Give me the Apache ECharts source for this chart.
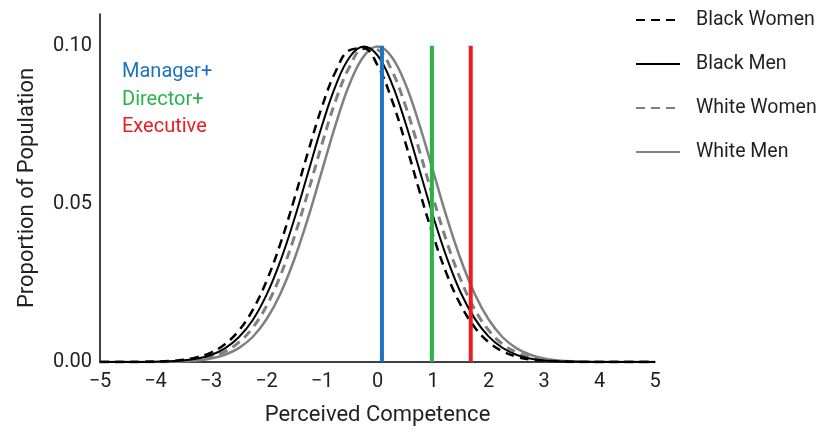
<!DOCTYPE html>
<html>
<head>
<meta charset="utf-8">
<script src="https://cdn.jsdelivr.net/npm/echarts@6/dist/echarts.min.js"></script>
<style>
  html, body { margin: 0; padding: 0; background: #fff; }
  #chart { width: 817px; height: 432px; }
</style>
</head>
<body>
<div id="chart"></div>
<script>
// perceived competence (x) grid
var xs = [-5, -4.75, -4.5, -4.25, -4, -3.75, -3.5, -3.25, -3, -2.75,
  -2.5, -2.25, -2, -1.75, -1.5, -1.25, -1, -0.75, -0.5, -0.25,
  0, 0.25, 0.5, 0.75, 1, 1.25, 1.5, 1.75, 2, 2.25,
  2.5, 2.75, 3, 3.25, 3.5, 3.75, 4, 4.25, 4.5, 4.75, 5];

// proportion of population
var blackWomen = [0, 0, 0, 0.00005, 0.0001, 0.0003, 0.0007, 0.0015, 0.0030, 0.0056,
  0.0099, 0.0164, 0.0256, 0.0374, 0.0515, 0.0665, 0.0807, 0.0920, 0.0986, 0.0992,
  0.0938, 0.0833, 0.0695, 0.0544, 0.0401, 0.0277, 0.0180, 0.0110, 0.0063, 0.0034,
  0.0017, 0.0008, 0.0004, 0.0002, 0.0001, 0, 0, 0, 0, 0, 0];
var blackMen = [0, 0, 0, 0, 0.0001, 0.0002, 0.0005, 0.0011, 0.0022, 0.0043,
  0.0078, 0.0132, 0.0212, 0.0319, 0.0451, 0.0599, 0.0747, 0.0875, 0.0964, 0.0997,
  0.0969, 0.0884, 0.0758, 0.0611, 0.0462, 0.0329, 0.0219, 0.0138, 0.0081, 0.0045,
  0.0023, 0.0011, 0.0005, 0.0002, 0.0001, 0, 0, 0, 0, 0, 0];
var whiteWomen = [0, 0, 0, 0, 0.0001, 0.0001, 0.0004, 0.0008, 0.0017, 0.0033,
  0.0062, 0.0108, 0.0177, 0.0273, 0.0395, 0.0538, 0.0689, 0.0828, 0.0934, 0.0991,
  0.0987, 0.0924, 0.0812, 0.0671, 0.0521, 0.0379, 0.0260, 0.0167, 0.0101, 0.0057,
  0.0031, 0.0015, 0.0007, 0.0003, 0.0001, 0.0001, 0, 0, 0, 0, 0];
var whiteMen = [0, 0, 0, 0, 0, 0.0001, 0.0002, 0.0005, 0.0011, 0.0023,
  0.0044, 0.0079, 0.0135, 0.0216, 0.0324, 0.0456, 0.0605, 0.0753, 0.0880, 0.0966,
  0.0997, 0.0966, 0.0880, 0.0753, 0.0605, 0.0456, 0.0324, 0.0216, 0.0135, 0.0079,
  0.0044, 0.0023, 0.0011, 0.0005, 0.0002, 0.0001, 0, 0, 0, 0, 0];

// promotion thresholds
var levelNames = ['Manager+', 'Director+', 'Executive'];
var levelCuts = [0.08, 0.98, 1.68];
var levelTop = 0.10;
var levelColors = ['#1c75bc', '#2bb24c', '#ec1c24'];

var groupNames = ['Black Women', 'Black Men', 'White Women', 'White Men'];

var FONT = 'Roboto, "Liberation Sans", sans-serif';
var INK = '#231f20';

function pairs(ys) {
  var out = [];
  for (var i = 0; i < xs.length; i++) out.push([xs[i], ys[i]]);
  return out;
}

var curveStyle = [
  { data: blackWomen, color: '#000000', width: 2.5, type: [9, 6], z: 5 },
  { data: blackMen, color: '#000000', width: 2, type: 'solid', z: 4 },
  { data: whiteWomen, color: '#808080', width: 3, type: [9, 6], z: 3 },
  { data: whiteMen, color: '#808080', width: 2.5, type: 'solid', z: 2 }
];

var series = [];
for (var i = 0; i < groupNames.length; i++) {
  var c = curveStyle[i];
  series.push({
    name: groupNames[i],
    type: 'line',
    smooth: 0.4,
    symbol: 'none',
    z: c.z,
    color: c.color,
    lineStyle: { color: c.color, width: c.width, type: c.type },
    data: pairs(c.data)
  });
}
for (var j = 0; j < levelCuts.length; j++) {
  series.push({
    name: levelNames[j],
    type: 'line',
    symbol: 'none',
    z: 6,
    lineStyle: { color: levelColors[j], width: 4 },
    data: [[levelCuts[j], 0], [levelCuts[j], levelTop]]
  });
}

var graphics = [];
for (var k = 0; k < levelNames.length; k++) {
  graphics.push({
    type: 'text',
    x: 122,
    y: 72 + k * 27.5,
    style: {
      text: levelNames[k],
      fill: levelColors[k],
      font: '20px ' + FONT,
      verticalAlign: 'middle'
    }
  });
}

var myChart = echarts.init(document.getElementById('chart'));
var option = {
  animation: false,
  backgroundColor: '#fff',
  grid: { left: 100, right: 162, top: 14, bottom: 70 },
  legend: {
    data: groupNames,
    orient: 'vertical',
    left: 630,
    top: 5,
    itemWidth: 44,
    itemHeight: 20,
    itemGap: 24,
    itemStyle: { opacity: 0 },
    textStyle: { fontFamily: FONT, fontSize: 19.5, color: INK, padding: [0, 0, 0, 11] }
  },
  xAxis: {
    type: 'value',
    min: -5,
    max: 5,
    interval: 1,
    name: 'Perceived Competence',
    nameLocation: 'middle',
    nameGap: 42,
    nameTextStyle: { fontFamily: FONT, fontSize: 22, color: INK },
    axisLine: { lineStyle: { color: '#000', width: 1.5 } },
    axisTick: { show: false },
    splitLine: { show: false },
    axisLabel: {
      fontFamily: FONT, fontSize: 20, color: INK, margin: 10,
      formatter: function (v) { return v < 0 ? '\u2212' + Math.abs(v) : String(v); }
    }
  },
  yAxis: {
    type: 'value',
    min: 0,
    max: 0.11,
    interval: 0.05,
    name: 'Proportion of Population',
    nameLocation: 'middle',
    nameGap: 62,
    nameTextStyle: { fontFamily: FONT, fontSize: 22, color: INK },
    axisLine: { show: true, onZero: false, lineStyle: { color: '#000', width: 1.5 } },
    axisTick: { show: false },
    splitLine: { show: false },
    axisLabel: {
      fontFamily: FONT, fontSize: 20, color: INK, margin: 8, showMaxLabel: false,
      formatter: function (v) { return v.toFixed(2); }
    }
  },
  graphic: graphics,
  series: series
};
myChart.setOption(option);
</script>
</body>
</html>
